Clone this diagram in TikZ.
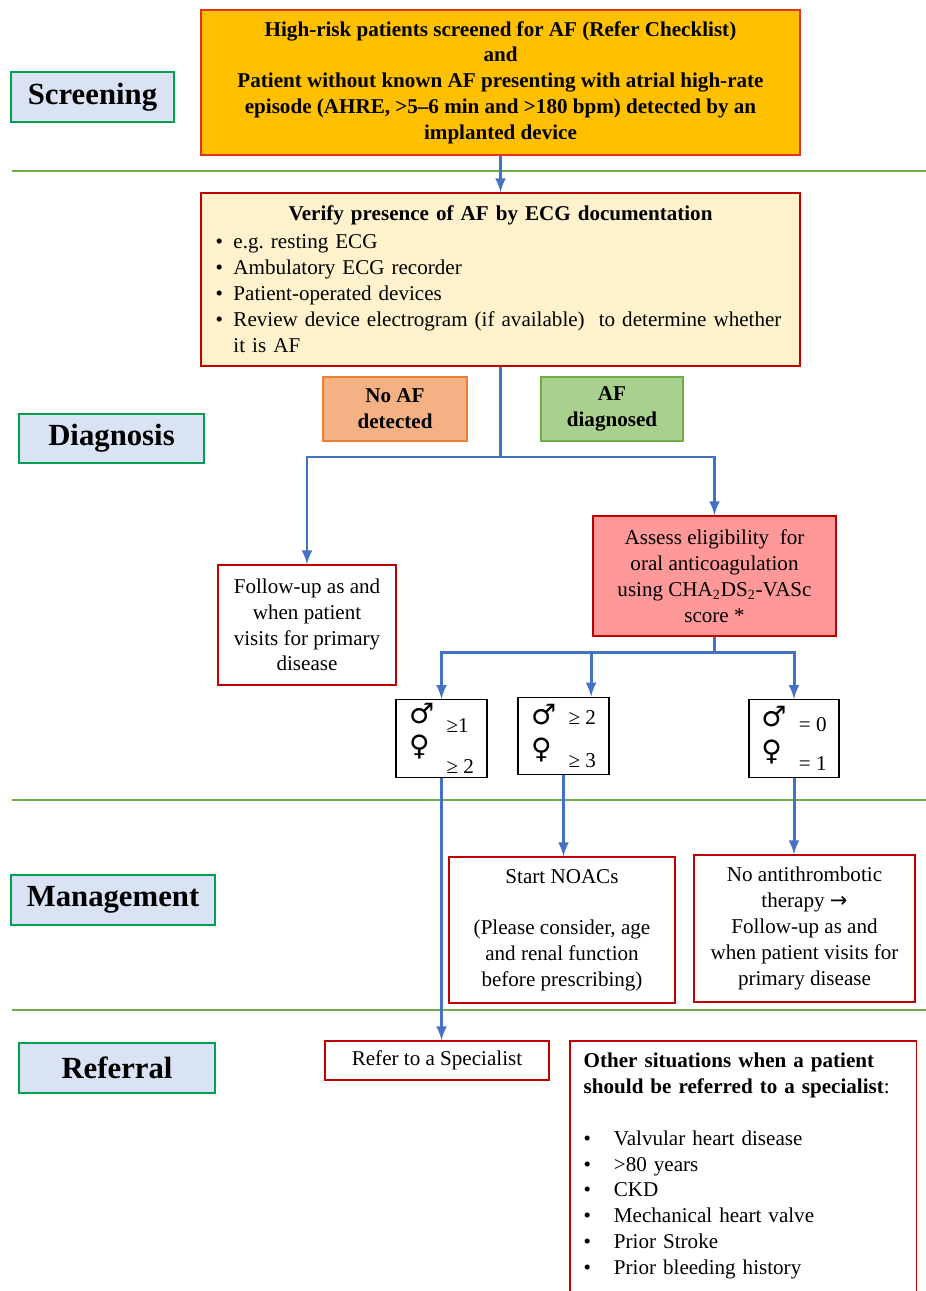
\documentclass[tikz,border=0pt]{standalone}
\usepackage{fontspec}
\setmainfont{Liberation Serif}
\newfontfamily\symfont{DejaVu Sans}
\usepackage{tikz}
\usetikzlibrary{arrows,positioning}
\definecolor{boxred}{RGB}{192,0,0}
\definecolor{orangefill}{RGB}{255,192,0}
\definecolor{orangeline}{RGB}{230,50,35}
\definecolor{creamfill}{RGB}{255,242,204}
\definecolor{stagefill}{RGB}{218,227,243}
\definecolor{stagegreen}{RGB}{0,160,80}
\definecolor{salmonfill}{RGB}{244,177,131}
\definecolor{salmonline}{RGB}{237,125,49}
\definecolor{leaffill}{RGB}{169,209,142}
\definecolor{leafline}{RGB}{112,173,71}
\definecolor{pinkfill}{RGB}{255,153,153}
\definecolor{flowblue}{RGB}{68,114,196}
\tikzstyle{stage} = [draw=stagegreen, line width=1.2pt, fill=stagefill, inner sep=0pt, font=\fontsize{17.5}{20}\selectfont\bfseries]
\tikzstyle{plainbox} = [draw=boxred, line width=0.8pt, fill=white, align=center, inner sep=0pt, font=\fontsize{12}{14.7}\selectfont]
\tikzstyle{scorebox} = [draw=black, line width=0.8pt, fill=white, inner sep=0pt, minimum width=1.82cm, minimum height=1.55cm, font=\fontsize{12}{14.7}\selectfont]
\tikzstyle{flow} = [draw=flowblue, line width=1.7pt]
\tikzstyle{flowarrow} = [flow, -latex]
\tikzstyle{divider} = [draw=leafline, line width=1.4pt]

\begin{document}
\begin{tikzpicture}[x=0.02cm, y=-0.02cm]

	\useasboundingbox[fill=white] (0,0) rectangle (926,1291);

	\draw[divider] (12,171) -- (926,171);
	\draw[divider] (12,800) -- (926,800);
	\draw[divider] (12,1010) -- (926,1010);

	\node[stage, minimum width=3.26cm, minimum height=1cm] (screening) at (92.5,97) {Screening};
	\node[stage, minimum width=3.7cm, minimum height=0.98cm] (diagnosis) at (111.5,438.5) {Diagnosis};
	\node[stage, minimum width=4.08cm, minimum height=1cm] (management) at (113,900) {Management};
	\node[stage, minimum width=3.92cm, minimum height=1cm] (referral) at (117,1068) {Referral};

	\node[plainbox, draw=orangeline, fill=orangefill, font=\fontsize{12}{14.7}\selectfont\bfseries,
		minimum width=11.98cm, minimum height=2.9cm] (highrisk) at (500.5,82.5)
		{High-risk patients screened for AF (Refer Checklist)\\ and\\
		Patient without known AF presenting with atrial high-rate\\
		episode (AHRE, >5--6 min and >180 bpm) detected by an\\ implanted device};

	\node[plainbox, fill=creamfill, align=left, text width=11.4cm,
		minimum width=11.98cm, minimum height=3.46cm] (verify) at (500.5,279.5)
		{\centering\rule{0pt}{12.4pt}\textbf{Verify presence of AF by ECG documentation}\par
		\vspace{2pt}\raggedright
		\begin{tabular}{@{}l@{\hspace{6pt}}l@{}}
			\textbullet & e.g.\ resting ECG\\
			\textbullet & Ambulatory ECG recorder\\
			\textbullet & Patient-operated devices\\
			\textbullet & Review device electrogram (if available)\ \ to determine whether\\
			& it is AF
		\end{tabular}};

	\node[plainbox, draw=salmonline, fill=salmonfill, font=\fontsize{12}{14.7}\selectfont\bfseries,
		minimum width=2.88cm, minimum height=1.28cm] (noaf) at (395,409) {No AF\\ detected};
	\node[plainbox, draw=leafline, fill=leaffill, font=\fontsize{12}{14.7}\selectfont\bfseries,
		minimum width=2.84cm, minimum height=1.28cm] (afdiag) at (612,409) {AF\\ diagnosed};

	\node[plainbox, minimum width=3.56cm, minimum height=2.4cm] (followup) at (307,625)
		{Follow-up as and\\ when patient\\ visits for primary\\ disease};
	\node[plainbox, fill=pinkfill, minimum width=4.86cm, minimum height=2.4cm] (assess) at (714.5,576)
		{Assess eligibility\ \ for\\ oral anticoagulation\\ using CHA\textsubscript{2}DS\textsubscript{2}-VASc\\ score *};

	\node[scorebox] (scoreA) at (441.5,738.5)
		{\begin{tabular}{@{}l@{\hspace{7pt}}l@{}}
			{\symfont\fontsize{16}{17}\selectfont ♂} & \raisebox{-5pt}{≥1}\\[2pt]
			{\symfont\fontsize{16}{17}\selectfont ♀} & \raisebox{-10pt}{≥ 2}
		\end{tabular}};
	\node[scorebox] (scoreB) at (563.5,736)
		{\begin{tabular}{@{}l@{\hspace{7pt}}l@{}}
			{\symfont\fontsize{16}{17}\selectfont ♂} & ≥ 2\\[3pt]
			{\symfont\fontsize{16}{17}\selectfont ♀} & \raisebox{-5pt}{≥ 3}
		\end{tabular}};
	\node[scorebox, minimum width=1.8cm] (scoreC) at (794,738.5)
		{\begin{tabular}{@{}l@{\hspace{7pt}}l@{}}
			{\symfont\fontsize{16}{17}\selectfont ♂} & \raisebox{-3pt}{= 0}\\[3pt]
			{\symfont\fontsize{16}{17}\selectfont ♀} & \raisebox{-6pt}{= 1}
		\end{tabular}};

	\node[plainbox, minimum width=4.52cm, minimum height=2.92cm] (noacs) at (562,930)
		{Start NOACs\\ \\ (Please consider, age\\ and renal\ function\\ before prescribing)};
	\node[plainbox, minimum width=4.42cm, minimum height=2.94cm] (noanti) at (804.5,928.5)
		{No antithrombotic\\ therapy {\symfont →}\\ Follow-up as and\\ when patient visits for\\ primary disease};

	\node[plainbox, minimum width=4.48cm, minimum height=0.78cm] (refer) at (437,1060.5) {Refer to a Specialist};

	\node[plainbox, draw=none, fill=none, align=left, anchor=north west, inner xsep=0.26cm, inner ysep=0.16cm,
		text width=6.38cm] (other) at (570,1041)
		{\begin{tabular}{@{}l@{\hspace{13pt}}l@{}}
			\multicolumn{2}{@{}l@{}}{\textbf{Other situations when a patient}}\\
			\multicolumn{2}{@{}l@{}}{\textbf{should be referred to a specialist}:}\\[14.7pt]
			\textbullet & Valvular\ heart disease\\
			\textbullet & >80 years\\
			\textbullet & CKD\\
			\textbullet & Mechanical\ heart valve\\
			\textbullet & Prior Stroke\\
			\textbullet & Prior bleeding history
		\end{tabular}};
	\draw[boxred, line width=0.8pt] (other.south west) -- (other.north west) -- (other.north east) -- (other.south east);

	\coordinate (vsplit) at (500.5,457);
	\coordinate (asplit) at (714.5,652);

	\draw[flowarrow] (highrisk) -- (verify);
	\draw[flow] (verify.south) -- (vsplit);
	\draw[flowarrow] (vsplit) -| (followup.north);
	\draw[flowarrow] (vsplit) -| (assess.north);
	\draw[flow] (assess.south) -- (asplit);
	\draw[flowarrow] (asplit) -| (scoreA.north);
	\draw[flowarrow] (asplit) -| (scoreB.55);
	\draw[flowarrow] (asplit) -| (scoreC.north);
	\draw[flowarrow] (scoreA.south) -- (scoreA.south |- refer.north);
	\draw[flowarrow] (scoreB.south) -- (scoreB.south |- noacs.north);
	\draw[flowarrow] (scoreC.south) -- (scoreC.south |- noanti.north);

\end{tikzpicture}
\end{document}
